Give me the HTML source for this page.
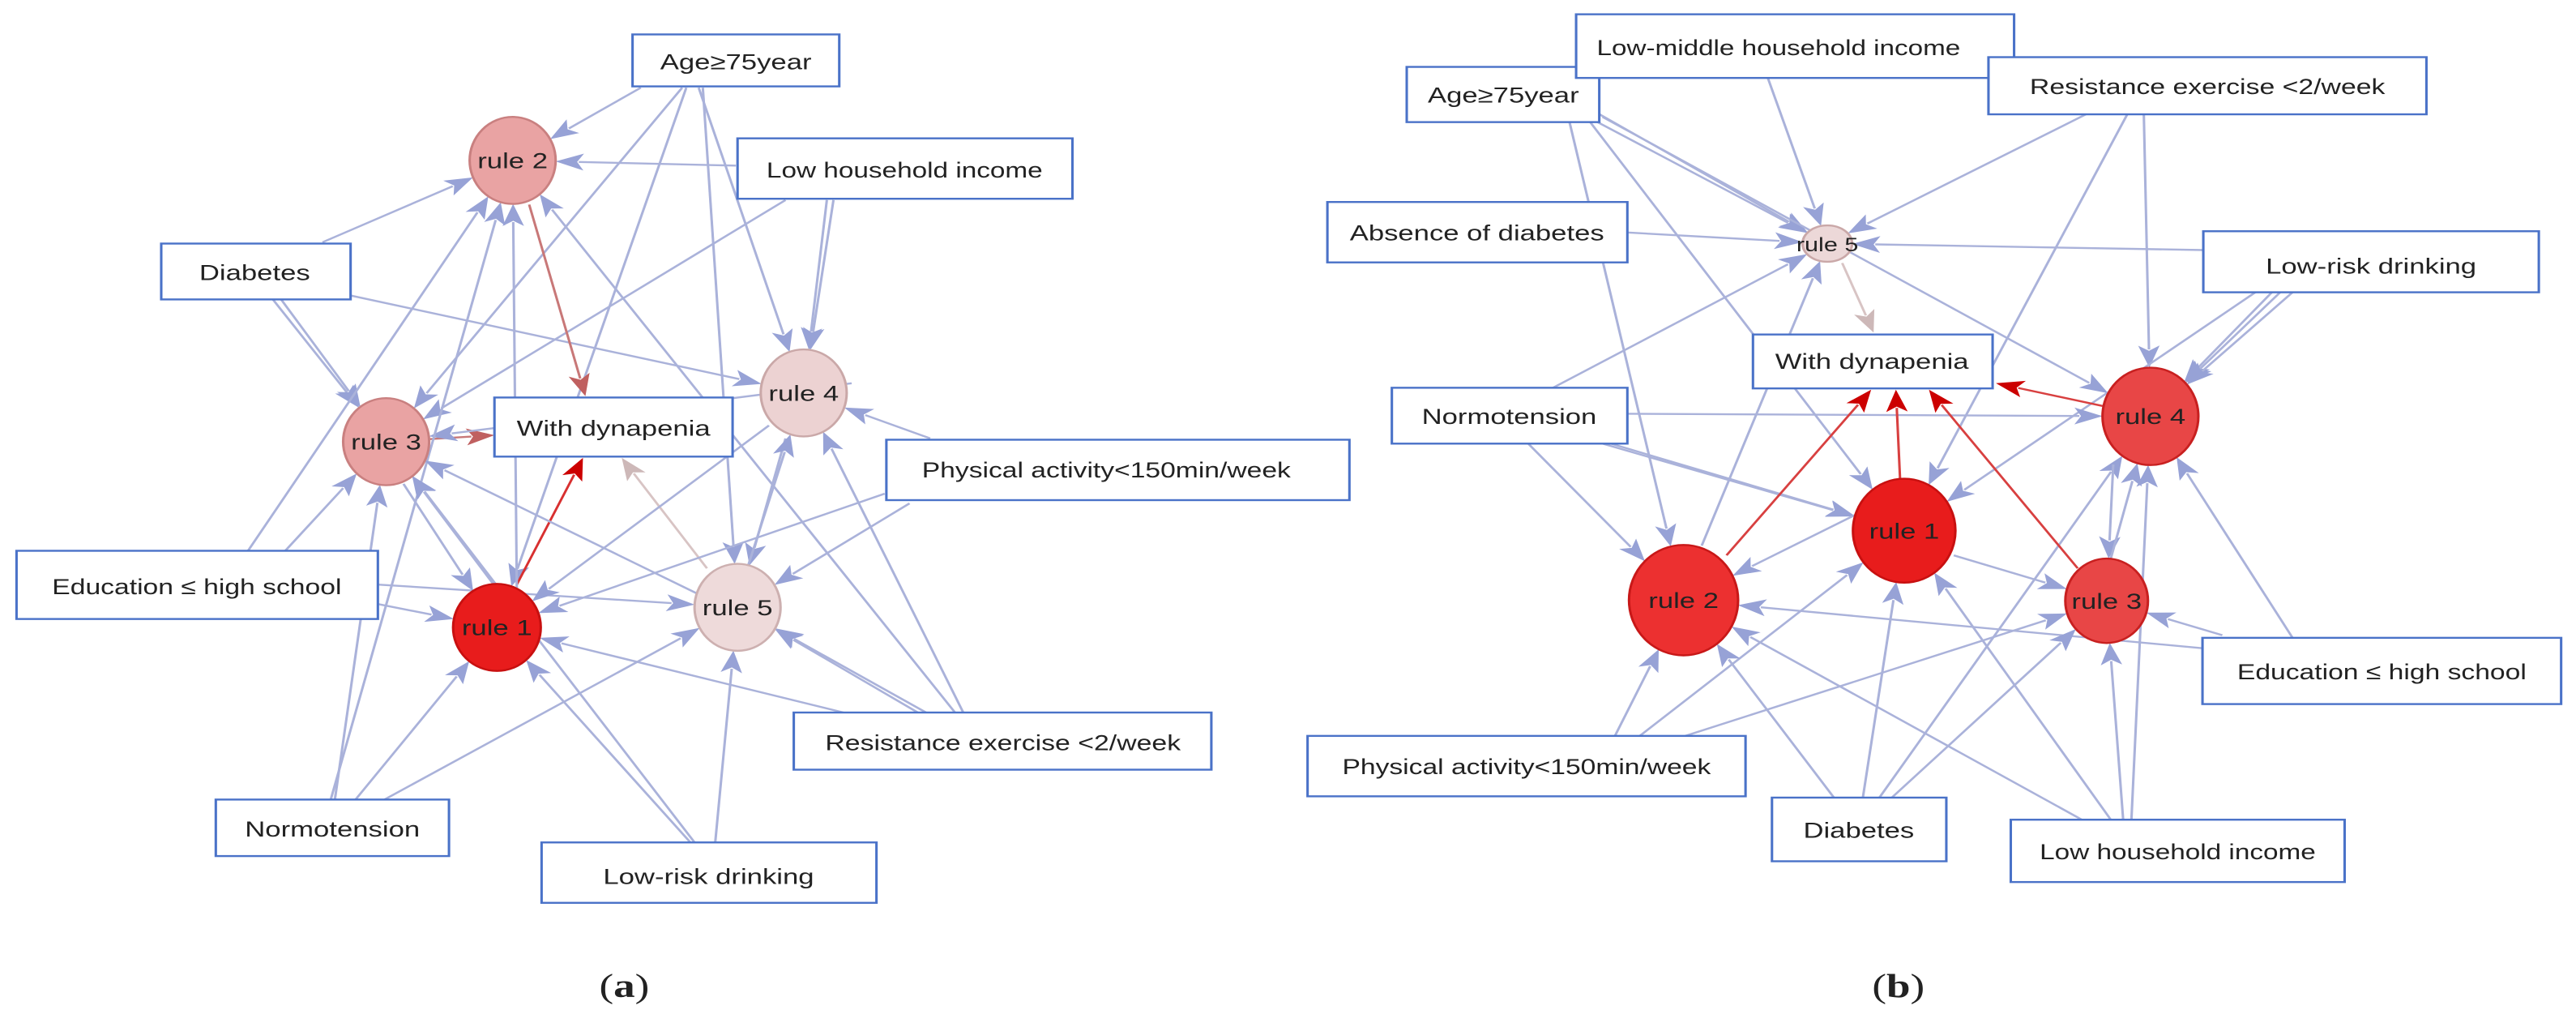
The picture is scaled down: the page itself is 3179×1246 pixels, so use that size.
<!DOCTYPE html>
<html><head><meta charset="utf-8">
<style>
html,body{margin:0;padding:0;background:#fff;}
body{width:3179px;height:1246px;position:relative;overflow:hidden;}
svg{position:absolute;top:0;overflow:visible;}
text{font-family:"Liberation Sans",sans-serif;fill:#222;}
</style></head>
<body>
<svg id="R" style="left:1580px" width="1599" height="1246" viewBox="0 0 1568 1555" preserveAspectRatio="none">
<g id="Re"></g><g id="Rn"></g>
<g stroke="#4a72c8" stroke-width="3" fill="#fff">
<rect x="153" y="103" width="233" height="85"/>
<rect x="358" y="22" width="530" height="98"/>
<rect x="857" y="88" width="530" height="88"/>
<rect x="57" y="311" width="363" height="93"/>
<rect x="1117" y="356" width="406" height="94"/>
<rect x="572" y="515" width="290" height="83"/>
<rect x="135" y="597" width="285" height="86"/>
<rect x="1116" y="982" width="434" height="102"/>
<rect x="33" y="1133" width="530" height="93"/>
<rect x="595" y="1228" width="211" height="98"/>
<rect x="884" y="1262" width="404" height="96"/>
</g>
<g font-size="34" text-anchor="middle">
<text x="270" y="158">Age≥75year</text>
<text x="603" y="85" textLength="440" lengthAdjust="spacingAndGlyphs">Low-middle household income</text>
<text x="1122" y="145" textLength="430" lengthAdjust="spacingAndGlyphs">Resistance exercise &lt;2/week</text>
<text x="238" y="370">Absence of diabetes</text>
<text x="1320" y="421">Low-risk drinking</text>
<text x="716" y="568">With dynapenia</text>
<text x="277" y="653">Normotension</text>
<text x="1333" y="1046" textLength="350" lengthAdjust="spacingAndGlyphs">Education ≤ high school</text>
<text x="298" y="1192" textLength="446" lengthAdjust="spacingAndGlyphs">Physical activity&lt;150min/week</text>
<text x="700" y="1290">Diabetes</text>
<text x="1086" y="1323" textLength="334" lengthAdjust="spacingAndGlyphs">Low household income</text>
</g>
<text x="748" y="1535" font-size="52" text-anchor="middle" style="font-family:'Liberation Serif',serif">(<tspan font-weight="bold">b</tspan>)</text>
</svg>

<svg id="L" style="left:0" width="1600" height="1246" viewBox="0 0 1568 1555" preserveAspectRatio="none">
<g id="Le"></g><g id="Ln"></g>
<g stroke="#4a72c8" stroke-width="3" fill="#fff">
<rect x="765" y="53" width="250" height="80"/>
<rect x="892" y="213" width="405" height="93"/>
<rect x="195" y="375" width="229" height="86"/>
<rect x="598" y="612" width="288" height="91"/>
<rect x="1072" y="677" width="560" height="93"/>
<rect x="20" y="848" width="437" height="105"/>
<rect x="960" y="1097" width="505" height="88"/>
<rect x="261" y="1231" width="282" height="87"/>
<rect x="655" y="1297" width="405" height="93"/>
</g>
<g font-size="34" text-anchor="middle">
<text x="890" y="107">Age≥75year</text>
<text x="1094" y="273" textLength="334" lengthAdjust="spacingAndGlyphs">Low household income</text>
<text x="308" y="431">Diabetes</text>
<text x="742" y="671">With dynapenia</text>
<text x="1338" y="735" textLength="446" lengthAdjust="spacingAndGlyphs">Physical activity&lt;150min/week</text>
<text x="238" y="915" textLength="350" lengthAdjust="spacingAndGlyphs">Education ≤ high school</text>
<text x="1213" y="1155" textLength="430" lengthAdjust="spacingAndGlyphs">Resistance exercise &lt;2/week</text>
<text x="402" y="1288">Normotension</text>
<text x="857" y="1361">Low-risk drinking</text>
</g>
<text x="755" y="1535" font-size="52" text-anchor="middle" style="font-family:'Liberation Serif',serif">(<tspan font-weight="bold">a</tspan>)</text>
</svg>

<script>
var NS="http://www.w3.org/2000/svg";
function el(p,t,a){var e=document.createElementNS(NS,t);for(var k in a)e.setAttribute(k,a[k]);p.appendChild(e);return e;}
function build(eg,ng,nodes,edges){
  edges.forEach(function(E){
    var sx=E[0],sy=E[1],tx,ty,col=E[3]||"#aab2da",ac=E[4]||"#97a2d6";
    var T=E[2];
    if(typeof T==="string"){
      var n=nodes[T];
      var dx=n[0]-sx,dy=n[1]-sy,L=Math.hypot(dx,dy),ux=dx/L,uy=dy/L;
      var k=1/Math.sqrt((ux/n[2])*(ux/n[2])+(uy/n[3])*(uy/n[3]));
      tx=n[0]-ux*k;ty=n[1]-uy*k;
    } else {tx=T[0];ty=T[1];}
    var dx2=tx-sx,dy2=ty-sy,L2=Math.hypot(dx2,dy2),vx=dx2/L2,vy=dy2/L2;
    var al=34,aw=13;
    var bx=tx-vx*al,by=ty-vy*al;
    el(eg,"line",{x1:sx,y1:sy,x2:bx+vx*6,y2:by+vy*6,stroke:col,"stroke-width":3});
    el(eg,"polygon",{points:tx+","+ty+" "+(bx-vy*aw)+","+(by+vx*aw)+" "+(bx+vx*8)+","+(by+vy*8)+" "+(bx+vy*aw)+","+(by-vx*aw),fill:ac});
  });
  for(var key in nodes){var n=nodes[key];
    el(ng,"ellipse",{cx:n[0],cy:n[1],rx:n[2],ry:n[3],fill:n[4],stroke:n[5],"stroke-width":3});
    var t=el(ng,"text",{x:n[0],y:n[1]+12,"font-size":n[6]||34,"text-anchor":"middle"});
    t.textContent=key; t.setAttribute("fill","#4a2a2a");
  }
}
var LN={
 "rule 2":[620,247,52,67,"#e9a3a3","#c98080"],
 "rule 3":[467,680,52,67,"#e9a3a3","#c98080"],
 "rule 1":[601,966,53,67,"#e81c1c","#c81010"],
 "rule 4":[972,605,52,67,"#ecd2d2","#caa8a8"],
 "rule 5":[892,935,52,67,"#eedada","#cdb0b0"]
};
var RE="#c87878",RA="#c06060";
var LE=[
 [775,135,"rule 2"],[825,135,"rule 3"],[830,135,"rule 1"],[845,135,"rule 4"],[850,135,"rule 5"],
 [890,255,"rule 2"],[950,308,"rule 3"],[1000,308,"rule 4"],[1008,308,"rule 4"],
 [390,373,"rule 2"],[330,461,"rule 3"],[340,461,"rule 3"],[424,455,"rule 4"],
 [640,315,[708,610],RE,RA],[520,676,[598,670],RE,RA],[625,900,[705,705],"#d83030","#cc0000"],[855,875,[752,705],"#d8c4c4","#cdb8b8"],
 [1125,675,"rule 4"],[1100,775,"rule 5"],[1070,760,"rule 1"],[1030,590,"rule 3"],
 [300,848,"rule 2"],[345,848,"rule 3"],[457,930,"rule 1"],[457,900,"rule 5"],
 [405,1231,"rule 3"],[400,1231,"rule 2"],[430,1231,"rule 1"],[465,1231,"rule 5"],
 [1020,1097,"rule 1"],[1110,1097,"rule 5"],[1120,1097,"rule 5"],[1165,1097,"rule 4"],[1155,1097,"rule 2"],
 [835,1297,"rule 1"],[840,1297,"rule 3"],[865,1297,"rule 5"],
 [930,655,"rule 1"],[845,915,"rule 3"],[950,675,"rule 5"],[905,870,"rule 4"],
 [488,745,"rule 1"],[600,905,"rule 3"],[625,905,"rule 2"]
];
build(document.getElementById("Le"),document.getElementById("Ln"),LN,LE);

var RN={
 "rule 5":[662,375,30,28,"#ecd8d8","#caa8a8",30],
 "rule 4":[1053,641,58,75,"#e84646","#c82020"],
 "rule 1":[755,817,62,80,"#e81c1c","#c81010"],
 "rule 2":[488,924,66,85,"#ec3030","#c81818"],
 "rule 3":[1000,925,50,65,"#e84646","#c82020"]
};
var DR="#d84040",DA="#cc0000";
var REd=[
 [385,175,"rule 5"],[375,182,"rule 5"],[350,188,"rule 2"],[375,188,"rule 1"],[390,180,"rule 4"],
 [590,120,"rule 5"],[975,176,"rule 5"],[1045,176,"rule 4"],[1025,176,"rule 1"],
 [420,358,"rule 5"],[1117,385,"rule 5"],[1200,450,"rule 4"],[1210,450,"rule 4"],[1225,450,"rule 4"],[1180,450,"rule 1"],
 [420,637,"rule 4"],[390,683,"rule 1"],[400,683,"rule 1"],[300,683,"rule 2"],[330,597,"rule 5"],
 [1116,998,"rule 2"],[1140,978,"rule 3"],[1225,982,"rule 4"],
 [405,1133,"rule 2"],[435,1133,"rule 1"],[490,1133,"rule 3"],
 [670,1228,"rule 2"],[705,1228,"rule 1"],[740,1228,"rule 3"],[725,1228,"rule 4"],
 [970,1262,"rule 2"],[1005,1262,"rule 1"],[1020,1262,"rule 3"],[1030,1262,"rule 4"],
 [815,855,"rule 3"],[1008,715,"rule 3"],[1005,860,"rule 4"],[700,790,"rule 2"],[510,840,"rule 5"],
 [540,855,[715,600],DR,DA],[750,737,[745,600],DR,DA],[965,875,[785,600],DR,DA],[995,625,[866,590],DR,DA],
 [680,405,[718,512],"#d8c4c4","#cdb8b8"]
];
build(document.getElementById("Re"),document.getElementById("Rn"),RN,REd);
</script>
</body></html>
